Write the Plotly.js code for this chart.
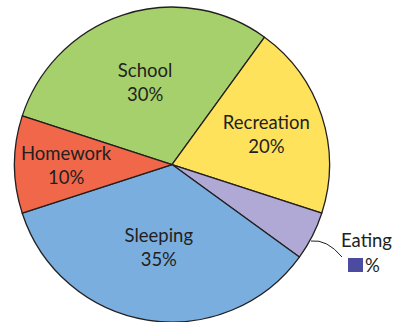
<!DOCTYPE html>
<html>
<head>
<meta charset="utf-8">
<script src="https://cdn.plot.ly/plotly-3.0.1.min.js"></script>
<style>html,body{margin:0;padding:0;background:#fff;}#chart{width:399px;height:322px;}</style>
</head>
<body>
<div id="chart"></div>
<script>
const categories = ["School", "Recreation", "Eating", "Sleeping", "Homework"];
const percents = [30, 20, 5, 35, 10];
const PAD = "\u00a0\u00a0";
const sliceLabels = ["School<br>30%", "Recreation<br>20%", "", "Sleeping<br>35%", PAD + "Homework<br>" + PAD + "10%"];
const colors = ["#a6d06b", "#ffe25c", "#b0a9d5", "#7aaedf", "#f0674a"];

const FONT = "Lato, sans-serif";

const trace = {
  type: "pie",
  labels: categories,
  values: percents,
  text: sliceLabels,
  textinfo: "text",
  textposition: "inside",
  insidetextorientation: "horizontal",
  sort: false,
  direction: "clockwise",
  rotation: -72,
  marker: {colors: colors, line: {color: "#231f20", width: 1.3}},
  textfont: {family: FONT, size: 18.5, color: "#231f20"},
  domain: {x: [14/399, 330/399], y: [0, 0.978]},
  hoverinfo: "none",
  showlegend: false
};

const layout = {
  width: 399, height: 322,
  margin: {l: 0, r: 0, t: 0, b: 0},
  paper_bgcolor: "#ffffff",
  showlegend: false,
  uniformtext: {mode: "show", minsize: 18.5},
  annotations: [
    {xref: "paper", yref: "paper", x: 366/399, y: 1 - 240/322, text: "Eating", showarrow: false,
     font: {family: FONT, size: 18.5, color: "#231f20"}, xanchor: "center", yanchor: "middle"},
    {xref: "paper", yref: "paper", x: 363/399, y: 1 - 265/322, text: "%", showarrow: false,
     font: {family: FONT, size: 18.5, color: "#231f20"}, xanchor: "left", yanchor: "middle"}
  ],
  shapes: [
    {type: "rect", xref: "paper", yref: "paper", x0: 348/399, x1: 363/399, y0: 1 - 272/322, y1: 1 - 258/322,
     fillcolor: "#4b4ba0", line: {width: 0}},
    {type: "path", xref: "paper", yref: "paper",
     path: "M " + (311/399) + "," + (1 - 241/322) + " Q " + (327/399) + "," + (1 - 239/322) + " " + (342/399) + "," + (1 - 257/322),
     line: {color: "#231f20", width: 1}}
  ]
};

Plotly.newPlot("chart", [trace], layout, {staticPlot: true, displayModeBar: false});
</script>
</body>
</html>
